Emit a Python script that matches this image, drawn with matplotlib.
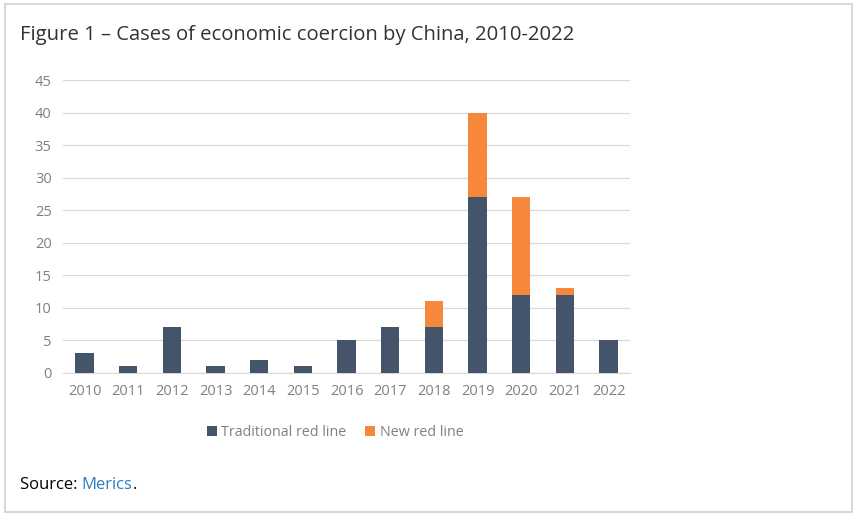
import matplotlib.pyplot as plt
from matplotlib.patches import Rectangle

# values
years = ["2010", "2011", "2012", "2013", "2014", "2015", "2016",
         "2017", "2018", "2019", "2020", "2021", "2022"]
traditional = [3, 1, 7, 1, 2, 1, 5, 7, 7, 27, 12, 12, 5]
new_line = [0, 0, 0, 0, 0, 0, 0, 0, 4, 13, 15, 1, 0]

navy = "#44546A"
orange = "#F5883A"
grey = "#808080"

plt.rcParams['font.family'] = ['Open Sans', 'DejaVu Sans']

fig = plt.figure(figsize=(8.6, 5.2), dpi=100)
ax = fig.add_axes([0.073, 0.283, 0.66, 0.563])

x = range(len(years))
ax.bar(x, traditional, width=0.42, color=navy, label="Traditional red line", zorder=3)
ax.bar(x, new_line, width=0.42, bottom=traditional, color=orange,
       label="New red line", zorder=3)

ax.set_xlim(-0.5, len(years) - 0.5)
ax.set_ylim(0, 45)
ax.set_yticks(range(0, 46, 5))
ax.set_xticks(list(x))
ax.set_xticklabels(years)
ax.tick_params(axis="both", length=0, colors=grey, labelsize=10.5, pad=8)
ax.grid(axis="y", color="#D9D9D9", linewidth=0.9, zorder=0)
for s in ["top", "right", "left"]:
    ax.spines[s].set_visible(False)
ax.spines["bottom"].set_color("#D9D9D9")

leg = ax.legend(loc="upper center", bbox_to_anchor=(0.48, -0.135), ncol=2,
                frameon=False, fontsize=10.3, handlelength=0.7, handleheight=0.7,
                columnspacing=1.3, handletextpad=0.3)
for t in leg.get_texts():
    t.set_color(grey)

fig.text(0.023, 0.932, "Figure 1 \u2013 Cases of economic coercion by China, 2010-2022",
         fontsize=14.6, color="#333333", va="center")
t1 = fig.text(0.023, 0.067, "Source: ", fontsize=12, color="black", va="center")
fig.canvas.draw()
bb = t1.get_window_extent()
x2 = bb.x1 / fig.bbox.width
t2 = fig.text(x2, 0.067, "Merics", fontsize=12, color="#2E7BBF", va="center")
bb2 = t2.get_window_extent()
fig.text(bb2.x1 / fig.bbox.width, 0.067, ".", fontsize=12, color="black", va="center")

fig.patches.append(Rectangle((0.006, 0.015), 0.985, 0.978, transform=fig.transFigure,
                             fill=False, edgecolor="#D0D0D0", linewidth=1.2))

fig.savefig("out.png", dpi=100)
